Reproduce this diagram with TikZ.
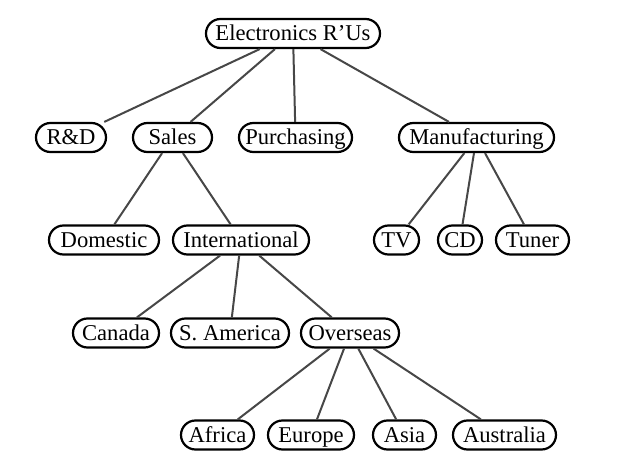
\documentclass[tikz,border=0pt]{standalone}
\usepackage{fontspec}
\setmainfont{Liberation Serif}
\begin{document}
\begin{tikzpicture}[x=1pt,y=-1pt,
  box/.style={rectangle, rounded corners=14.5pt, draw=black, line width=2.2pt, fill=white,
    inner xsep=0pt, inner ysep=0pt, minimum height=29pt, minimum width={#1pt-2pt},
    text height=14.8pt, text depth=0pt,
    font=\fontsize{22.6}{25}\selectfont},
  edge/.style={draw=black!72, line width=2pt}]
\useasboundingbox (0,0) rectangle (619,473);
\node[box=176] (root) at (293,33.5) {Electronics R’Us};
\node[box=72] (rd) at (71,137.5) {R\&D};
\node[box=81] (sales) at (172.5,137.5) {Sales};
\node[box=115] (purch) at (295.5,137.5) {Purchasing};
\node[box=157] (manu) at (476.5,137.5) {Manufacturing};
\node[box=112] (dom) at (104,240) {Domestic};
\node[box=138] (intl) at (241,240) {International};
\node[box=47] (tv) at (396.5,240) {TV};
\node[box=46] (cd) at (460,240) {CD};
\node[box=75] (tuner) at (532.5,240) {Tuner};
\node[box=88] (canada) at (116,333) {Canada};
\node[box=120] (sam) at (230,333) {S. America};
\node[box=100] (over) at (350,333) {Overseas};
\node[box=75] (africa) at (217.5,435) {Africa};
\node[box=88] (europe) at (311,435) {Europe};
\node[box=65] (asia) at (404.5,435) {Asia};
\node[box=105] (austr) at (504.5,435) {Australia};
\foreach \a/\b in {root/rd,root/sales,root/purch,root/manu,sales/dom,sales/intl,
  manu/tv,manu/cd,manu/tuner,intl/canada,intl/sam,intl/over,
  over/africa,over/europe,over/asia,over/austr}
  \draw[edge] (\a) -- (\b);
\end{tikzpicture}
\end{document}
